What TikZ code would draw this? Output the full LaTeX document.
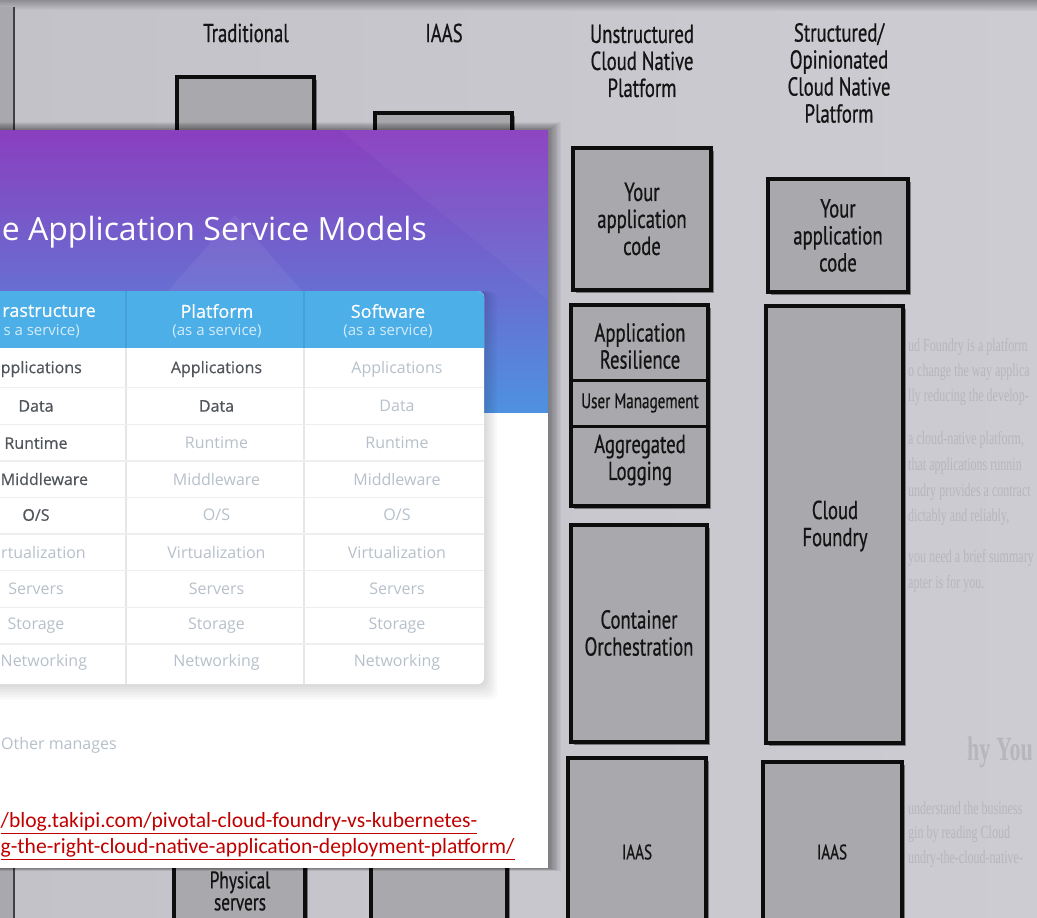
\documentclass[tikz,border=0pt]{standalone}
\usepackage{fontspec}
\setmainfont{Liberation Serif}
\newfontfamily\bookfont[FakeStretch=0.72,FakeBold=0.6]{PT Sans}
\newfontfamily\osfont{Open Sans}
\newfontfamily\osbold[FakeBold=0.5]{Open Sans}
\newfontfamily\linkfont{Carlito}
\newfontfamily\ghostfont[FakeStretch=0.65]{Liberation Serif}
\usetikzlibrary{shadows}
\definecolor{pageL}{HTML}{C3C2C9}
\definecolor{pageR}{HTML}{CDCCD2}
\definecolor{topdark}{HTML}{8E8D92}
\definecolor{leftgray}{HTML}{A9A8AE}
\definecolor{boxgray}{HTML}{A9A8AC}
\definecolor{booktext}{HTML}{141414}
\definecolor{ghost}{HTML}{B7B6BD}
\definecolor{bandtop}{HTML}{8A3FBF}
\definecolor{bandmid}{HTML}{6C5FD0}
\definecolor{bandbot}{HTML}{4E92E0}
\definecolor{hdrcyan}{HTML}{4DAFE7}
\definecolor{hdrline}{HTML}{44A0D6}
\definecolor{hdrsubc}{HTML}{D3ECFA}
\definecolor{celldark}{HTML}{50555B}
\definecolor{celllight}{HTML}{B7C0CA}
\definecolor{rowline}{HTML}{EEEEEE}
\definecolor{colline}{HTML}{E6E6E6}
\definecolor{linkred}{HTML}{C00000}
\newcommand\osSlash{O/S}
\begin{document}
\begin{tikzpicture}[x=1pt,y=-1pt,
  bookbox/.style={draw=black!95, line width=3.4pt, fill=boxgray, inner sep=0pt,
     drop shadow={shadow xshift=3pt, shadow yshift=-3pt, opacity=0.4, fill=black}},
  booktxt/.style={font=\bookfont\fontsize{26}{27}\selectfont, text=booktext, align=center, inner sep=0pt},
  booksmall/.style={font=\bookfont\fontsize{21}{22}\selectfont, text=booktext, inner sep=0pt},
  ghosttxt/.style={font=\ghostfont\fontsize{18.5}{20}\selectfont, text=ghost, anchor=west, inner sep=0pt},
  cellD/.style={font=\osbold\fontsize{16}{18}\selectfont, text=celldark, inner sep=0pt},
  cellL/.style={font=\osfont\fontsize{16}{18}\selectfont, text=celllight, inner sep=0pt},
  hdr/.style={font=\osbold\fontsize{18}{20}\selectfont, text=white, inner sep=0pt},
  hdrsub/.style={font=\osfont\fontsize{15}{17}\selectfont, text=hdrsubc, inner sep=0pt},
  linktxt/.style={font=\linkfont\fontsize{21.6}{24}\selectfont, text=linkred, anchor=west, inner sep=0pt}
]
\useasboundingbox (0,0) rectangle (1037,918);
\begin{scope}
\clip (0,0) rectangle (1037,918);
% ---------- photographed page ----------
\shade[left color=pageL, right color=pageR] (0,0) rectangle (1037,918);
\shade[top color=topdark, bottom color=pageL] (0,0) rectangle (1037,10);
\fill[leftgray] (0,7) rectangle (13,918);
\draw[black!75, line width=2pt] (13.5,7) -- (13.5,918);
% ghost text of the page
\node[ghosttxt] (g1) at (908,347) {ud Foundry is a platform};
\node[ghosttxt] (g2) at (908,372) {o change the way applica};
\node[ghosttxt] (g3) at (908,397) {lly reducing the develop-};
\node[ghosttxt] (g4) at (908,440) {a cloud-native platform,};
\node[ghosttxt] (g5) at (908,466) {that applications runnin};
\node[ghosttxt] (g6) at (908,492) {undry provides a contract};
\node[ghosttxt] (g7) at (908,517) {dictably and reliably,};
\node[ghosttxt] (g8) at (908,558) {you need a brief summary};
\node[ghosttxt] (g9) at (908,584) {apter is for you.};
\node[ghosttxt, font=\ghostfont\bfseries\fontsize{34}{36}\selectfont] (g10) at (967,752) {hy You};
\node[ghosttxt] (g11) at (908,808) {understand the business};
\node[ghosttxt] (g12) at (908,834) {gin by reading Cloud};
\node[ghosttxt] (g13) at (908,859) {undry-the-cloud-native-};
% column headers
\node[booktxt] (hTrad) at (246,33) {Traditional};
\node[booktxt] (hIaas) at (444,33) {IAAS};
\node[booktxt] (hUns) at (642,61) {Unstructured\\Cloud Native\\Platform};
\node[booktxt] (hStr) at (839,73) {Structured/\\Opinionated\\Cloud Native\\Platform};
% traditional and IAAS columns
\node[bookbox, minimum width=137pt, minimum height=143pt] (tradTop) at (245.5,148.5) {};
\node[bookbox, minimum width=137pt, minimum height=127pt] (iaasTop) at (443.5,176.5) {};
\node[bookbox, minimum width=131pt, minimum height=180pt] (tradBot) at (239.5,890) {};
\node[booktxt, font=\bookfont\fontsize{24}{22}\selectfont] (phys) at (240,891) {Physical\\servers};
\node[bookbox, minimum width=136pt, minimum height=180pt] (iaasBot) at (439,890) {};
% unstructured column
\node[bookbox, minimum width=138pt, minimum height=142pt] (uApp) at (642,219) {};
\node[booktxt] (uAppT) at (642,219) {Your\\application\\code};
\node[bookbox, minimum width=137pt, minimum height=201pt] (uStack) at (639.5,405.5) {};
\draw[black!95, line width=3pt] (uStack.west |- 0,380) -- (uStack.east |- 0,380);
\draw[black!95, line width=3pt] (uStack.west |- 0,426) -- (uStack.east |- 0,426);
\node[booktxt] (uRes) at (640,346) {Application\\Resilience};
\node[booksmall] (uUser) at (640,403) {User Management};
\node[booktxt] (uLog) at (640,460) {Aggregated\\Logging};
\node[bookbox, minimum width=136pt, minimum height=217pt] (uCont) at (639,633.5) {};
\node[booktxt] (uContT) at (639,633) {Container\\Orchestration};
\node[bookbox, minimum width=138pt, minimum height=222pt] (uIaas) at (637,869) {};
\node[booksmall] (uIaasT) at (637,852) {IAAS};
% structured column
\node[bookbox, minimum width=140pt, minimum height=113pt] (sApp) at (838,235.5) {};
\node[booktxt] (sAppT) at (838,235.5) {Your\\application\\code};
\node[bookbox, minimum width=137pt, minimum height=437pt] (sCf) at (834.5,524.5) {};
\node[booktxt] (sCfT) at (835,526) {Cloud\\Foundry};
\node[bookbox, minimum width=139pt, minimum height=218pt] (sIaas) at (832.5,871) {};
\node[booksmall] (sIaasT) at (832,852) {IAAS};
% ---------- overlaid screenshot ----------
\foreach \k in {1,...,10}
  \fill[black, opacity=0.045] (-5,130-\k*0.8) rectangle (548+\k*1.3,868+\k*0.3);
\shade[top color=bandtop, middle color=bandmid, bottom color=bandbot] (0,130) rectangle (548,413);
\fill[white, opacity=0.06] (60,413) -- (235,215) -- (410,413) -- cycle;
\fill[white, opacity=0.035] (340,130) -- (548,130) -- (548,300) -- cycle;
\node[font=\osfont\fontsize{32}{34}\selectfont, text=white, anchor=east, inner sep=0pt] (title) at (427,232) {e Application Service Models};
\fill[white] (0,413) rectangle (548,868);
% table card
\foreach \k in {1,...,6}
  \fill[black, opacity=0.022, rounded corners=8] (-20,291) rectangle (484+\k*2.2,684+\k*2.6);
\fill[white, rounded corners=6] (-20,291) rectangle (484,684);
\fill[hdrcyan, rounded corners=6] (-20,291) rectangle (484,360);
\fill[white] (-20,348) rectangle (484,362);
\draw[hdrline, line width=1.2pt] (126,291) -- (126,348);
\draw[hdrline, line width=1.2pt] (304,291) -- (304,348);
\draw[colline, line width=1.2pt] (126,348) -- (126,684);
\draw[colline, line width=1.2pt] (304,348) -- (304,684);
\foreach \y in {387.5,424.5,461,497.5,534,570.5,607.5,644}
  \draw[rowline, line width=1.6pt] (-20,\y) -- (484,\y);
\node[hdr, anchor=east] (hInf) at (96,311) {rastructure};
\node[hdrsub, anchor=east] (hInfS) at (80,331) {s a service)};
\node[hdr] (hPla) at (217,311) {Platform};
\node[hdrsub] (hPlaS) at (217,331) {(as a service)};
\node[hdr] (hSof) at (388,311) {Software};
\node[hdrsub] (hSofS) at (388,331) {(as a service)};
% first column, cut by the left edge of the screenshot
\node[cellD, anchor=east] (i1) at (82,369) {pplications};
\node[cellD] (i2) at (36,406) {Data};
\node[cellD] (i3) at (36,443) {Runtime};
\node[cellD, anchor=west] (i4) at (0.5,479) {Middleware};
\node[cellD] (i5) at (36,515) {\osSlash};
\node[cellL, anchor=east] (i6) at (86,552) {rtualization};
\node[cellL] (i7) at (36,589) {Servers};
\node[cellL] (i8) at (36,626) {Storage};
\node[cellL, anchor=west] (i9) at (0.5,662) {Networking};
\foreach \r/\t/\y/\b in {1/Applications/369/cellD, 2/Data/406/cellD,
   3/Runtime/443/cellL, 4/Middleware/479/cellL, 5/\osSlash/515/cellL,
   6/Virtualization/552/cellL, 7/Servers/589/cellL,
   8/Storage/626/cellL, 9/Networking/662/cellL}
{
  \node[\b] (p\r) at (216.5,\y) {\t};
  \node[cellL] (s\r) at (397,\y) {\t};
}
\node[cellL, anchor=west] (other) at (1,745) {Other manages};
\node[linktxt] (link1) at (0.5,823) {\underline{/blog.takipi.com/pivotal-cloud-foundry-vs-kubernetes-}};
\node[linktxt] (link2) at (0.5,849) {\underline{g-the-right-cloud-native-application-deployment-platform/}};
\end{scope}
\end{tikzpicture}
\end{document}
